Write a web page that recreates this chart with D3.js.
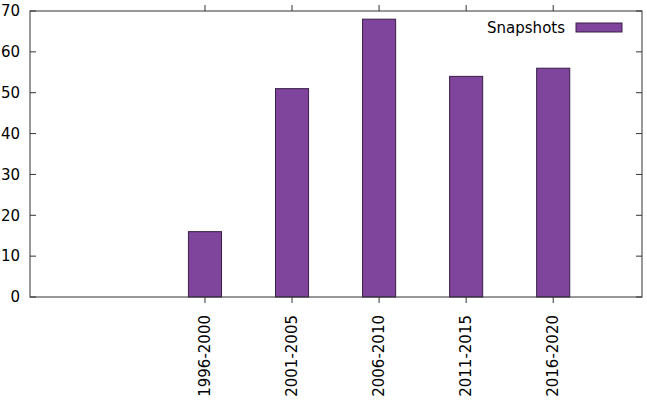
<!DOCTYPE html>
<html>
<head>
<meta charset="utf-8">
<script src="https://cdn.jsdelivr.net/npm/d3@7"></script>
<style>
  body { margin: 0; background: #fff; }
  text { font-family: "DejaVu Sans", sans-serif; font-size: 15px; fill: #000; }
</style>
</head>
<body>
<div id="chart"></div>
<script>
let periods = ["1996-2000", "2001-2005", "2006-2010", "2011-2015", "2016-2020"];
let snapshots = [16, 51, 68, 54, 56];
let yTicks = [0, 10, 20, 30, 40, 50, 60, 70];

let width = 647, height = 401;
let plotLeft = 30, plotRight = 642, plotTop = 11, plotBottom = 297;
let tickLen = 6;

let svg = d3.select("#chart").append("svg")
    .attr("width", width).attr("height", height);

// gnuplot-like x range: two empty slots on the left
let x = d3.scaleLinear().domain([-2.01, 5.02]).range([plotLeft, plotRight]);
let y = d3.scaleLinear().domain([0, 70]).range([plotBottom, plotTop]);
let barW = (x(1) - x(0)) * 0.38;

// bars
svg.selectAll(".bar").data(snapshots).join("rect")
    .attr("class", "bar")
    .attr("x", (d, i) => x(i) - barW / 2)
    .attr("y", d => y(d))
    .attr("width", barW)
    .attr("height", d => y(0) - y(d))
    .attr("fill", "#7f449b")
    .attr("stroke", "#3a1f48")
    .attr("stroke-width", 1);

// border
svg.append("rect")
    .attr("x", plotLeft).attr("y", plotTop)
    .attr("width", plotRight - plotLeft).attr("height", plotBottom - plotTop)
    .attr("fill", "none").attr("stroke", "#333").attr("stroke-width", 1);

// y ticks (inward on both sides)
svg.selectAll(".ytick-l").data(yTicks).join("line")
    .attr("x1", plotLeft).attr("x2", plotLeft + tickLen)
    .attr("y1", d => y(d)).attr("y2", d => y(d))
    .attr("stroke", "#333");
svg.selectAll(".ytick-r").data(yTicks).join("line")
    .attr("x1", plotRight - tickLen).attr("x2", plotRight)
    .attr("y1", d => y(d)).attr("y2", d => y(d))
    .attr("stroke", "#333");
svg.selectAll(".ylab").data(yTicks).join("text")
    .attr("x", plotLeft - 10).attr("y", d => y(d))
    .attr("dy", "0.35em").attr("text-anchor", "end")
    .text(d => d);

// x ticks (outward, top and bottom)
svg.selectAll(".xtick-b").data(periods).join("line")
    .attr("x1", (d, i) => x(i)).attr("x2", (d, i) => x(i))
    .attr("y1", plotBottom).attr("y2", plotBottom + tickLen)
    .attr("stroke", "#333");
svg.selectAll(".xtick-t").data(periods).join("line")
    .attr("x1", (d, i) => x(i)).attr("x2", (d, i) => x(i))
    .attr("y1", plotTop - tickLen).attr("y2", plotTop)
    .attr("stroke", "#333");
svg.selectAll(".xlab").data(periods).join("text")
    .attr("transform", (d, i) => `translate(${x(i)},${plotBottom + 18}) rotate(-90)`)
    .attr("dy", "0.35em").attr("text-anchor", "end")
    .text(d => d);

// legend
svg.append("text").attr("x", 565).attr("y", 28)
    .attr("dy", "0.35em").attr("text-anchor", "end").text("Snapshots");
svg.append("rect").attr("x", 576).attr("y", 23).attr("width", 46).attr("height", 9)
    .attr("fill", "#7f449b").attr("stroke", "#3a1f48");
</script>
</body>
</html>
